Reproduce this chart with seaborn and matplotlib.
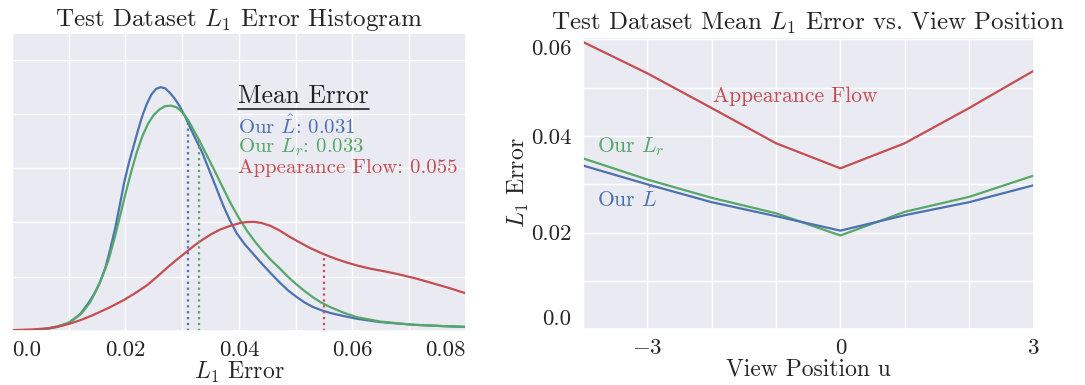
import numpy as np
import matplotlib
matplotlib.use("Agg")
import matplotlib.pyplot as plt
from matplotlib.lines import Line2D
import seaborn as sns

# ---------------- data ----------------
# Left panel: density curves
blue_x = [0.000, 0.003, 0.006, 0.008, 0.010, 0.012, 0.0134, 0.0145, 0.0155, 0.0165,
          0.0173, 0.0182, 0.0190, 0.0198, 0.0206, 0.0214, 0.0222, 0.0230, 0.0238, 0.0246,
          0.0254, 0.0262, 0.0270, 0.0278, 0.0286, 0.0295, 0.0305, 0.0320, 0.0335, 0.0349,
          0.0360, 0.0372, 0.0384, 0.0396, 0.0410, 0.0425, 0.0442, 0.0457, 0.0472, 0.0487,
          0.0502, 0.0516, 0.0530, 0.0545, 0.0560, 0.0585, 0.0608, 0.0648, 0.0707, 0.0760,
          0.0800]
blue_y = [0.0, 0.05, 0.3, 0.7, 1.4, 3.0, 5.0, 6.8, 8.9, 11.8,
          15.0, 19.0, 23.2, 27.5, 31.0, 34.0, 37.0, 39.8, 42.0, 43.7,
          44.7, 45.0, 44.8, 44.0, 43.0, 41.6, 39.6, 36.2, 33.0, 29.3,
          26.4, 23.2, 20.4, 18.0, 16.0, 14.2, 12.2, 10.5, 8.9, 7.4,
          6.2, 5.2, 4.4, 3.8, 3.3, 2.7, 2.2, 1.6, 1.1, 0.85,
          0.7]

green_x = [0.000, 0.003, 0.006, 0.008, 0.010, 0.0115, 0.0125, 0.0138, 0.0150, 0.0160,
           0.0170, 0.0180, 0.0190, 0.0200, 0.0210, 0.0220, 0.0230, 0.0240, 0.0250, 0.0260,
           0.0270, 0.0280, 0.0290, 0.0300, 0.0310, 0.0320, 0.0330, 0.0340, 0.0355, 0.0370,
           0.0385, 0.0400, 0.0414, 0.0428, 0.0442, 0.0457, 0.0472, 0.0487, 0.0502, 0.0516,
           0.0530, 0.0545, 0.0560, 0.0585, 0.0608, 0.0648, 0.0707, 0.0760, 0.0800]
green_y = [0.0, 0.05, 0.35, 0.8, 1.5, 2.6, 3.5, 5.3, 7.8, 10.2,
           13.0, 16.8, 21.0, 25.3, 29.3, 33.0, 36.0, 38.3, 39.9, 40.9,
           41.5, 41.6, 41.3, 40.4, 39.0, 37.1, 35.2, 33.1, 30.0, 26.8,
           23.6, 20.8, 18.5, 16.5, 14.7, 13.0, 11.5, 9.9, 8.5, 7.3,
           6.2, 5.2, 4.4, 3.3, 2.5, 1.7, 1.1, 0.85, 0.7]

red_x = [0.000, 0.004, 0.0067, 0.0085, 0.0102, 0.0122, 0.0143, 0.0170, 0.0196, 0.0218,
         0.0238, 0.0256, 0.0273, 0.0290, 0.0308, 0.0322, 0.0337, 0.0352, 0.0367, 0.0385,
         0.0402, 0.0415, 0.0428, 0.0440, 0.0455, 0.0472, 0.0487, 0.0502, 0.0525, 0.0548,
         0.0570, 0.0590, 0.0610, 0.0630, 0.0655, 0.0678, 0.0710, 0.0737, 0.0770, 0.0800]
red_y = [0.1, 0.25, 0.5, 0.85, 1.3, 2.0, 2.9, 4.2, 5.6, 7.0,
         8.4, 10.0, 11.6, 13.1, 14.6, 15.8, 16.9, 17.9, 18.7, 19.4,
         19.9, 20.1, 20.1, 19.9, 19.4, 18.5, 17.5, 16.6, 15.3, 14.2,
         13.3, 12.6, 12.0, 11.5, 11.0, 10.5, 9.7, 8.9, 7.9, 6.9]

mean_errors = [0.031, 0.033, 0.055]
left_xticks = [0.0, 0.01, 0.02, 0.03, 0.04, 0.05, 0.06, 0.07, 0.08]
left_xticklabels = ["0.0", "", "0.02", "", "0.04", "", "0.06", "", "0.08"]
left_yticks = [0, 10, 20, 30, 40, 50]

# Right panel: mean L1 error vs view position
view_u = [-4, -3, -2, -1, 0, 1, 2, 3]
appearance_flow = [0.0595, 0.0530, 0.0458, 0.0385, 0.0333, 0.0385, 0.0458, 0.0535]
our_lr = [0.0354, 0.0310, 0.0272, 0.0240, 0.0194, 0.0243, 0.0274, 0.0318]
our_lhat = [0.0339, 0.0300, 0.0263, 0.0234, 0.0204, 0.0236, 0.0263, 0.0298]
right_xticks = [-4, -3, -2, -1, 0, 1, 2, 3]
right_xticklabels = ["", r"$-3$", "", "", "0", "", "", "3"]
right_yticks = [0.0, 0.01, 0.02, 0.03, 0.04, 0.05, 0.06]
right_yticklabels = ["0.0", "", "0.02", "", "0.04", "", "0.06"]

# ---------------- style ----------------
sns.set_theme(style="darkgrid")
plt.rcParams["font.family"] = "serif"
plt.rcParams["font.serif"] = ["cmr10"]
plt.rcParams["mathtext.fontset"] = "cm"
plt.rcParams["axes.unicode_minus"] = False

BLUE = "#4C72B0"
GREEN = "#55A868"
RED = "#C44E52"
LW = 1.6
TKFS = 16.5
LBFS = 17
TFS = 18
AFS = 15

fig = plt.figure(figsize=(10.85, 3.85), dpi=100)
ax1 = fig.add_axes([0.011, 0.141, 0.4185, 0.773])
ax2 = fig.add_axes([0.537, 0.145, 0.4157, 0.759])

# ---------------- left panel ----------------
sns.lineplot(x=blue_x, y=blue_y, ax=ax1, color=BLUE, lw=LW)
sns.lineplot(x=green_x, y=green_y, ax=ax1, color=GREEN, lw=LW)
sns.lineplot(x=red_x, y=red_y, ax=ax1, color=RED, lw=LW)

for m, xs, ys, c in zip(mean_errors, [blue_x, green_x, red_x], [blue_y, green_y, red_y],
                        [BLUE, GREEN, RED]):
    h = float(np.interp(m, xs, ys))
    ax1.vlines(m, 0, h, colors=c, linestyles=":", lw=1.6)

ax1.set_xlim(0, 0.08)
ax1.set_ylim(0, 55)
ax1.set_xticks(left_xticks)
ax1.set_xticklabels(left_xticklabels, fontsize=TKFS)
labs = ax1.get_xticklabels()
labs[0].set_ha("left")
labs[-1].set_ha("right")
ax1.set_yticks(left_yticks)
ax1.set_yticklabels([])
ax1.tick_params(axis="x", pad=1)
ax1.set_xlabel(r"$L_1$ Error", fontsize=LBFS, labelpad=0)
ax1.set_ylabel("")
ax1.set_title(r"Test Dataset $L_1$ Error Histogram", fontsize=TFS, pad=5)

t_head = ax1.text(0.0398, 43.4, "Mean Error", color="#222222", fontsize=18.5,
                  ha="left", va="center")
ax1.text(0.0398, 37.9, r"Our $\hat{L}$: 0.031", color=BLUE, fontsize=AFS,
         ha="left", va="center")
ax1.text(0.0398, 33.95, r"Our $L_r$: 0.033", color=GREEN, fontsize=AFS,
         ha="left", va="center")
ax1.text(0.0398, 30.0, "Appearance Flow: 0.055", color=RED, fontsize=AFS,
         ha="left", va="center")

# ---------------- right panel ----------------
sns.lineplot(x=view_u, y=appearance_flow, ax=ax2, color=RED, lw=LW)
sns.lineplot(x=view_u, y=our_lr, ax=ax2, color=GREEN, lw=LW)
sns.lineplot(x=view_u, y=our_lhat, ax=ax2, color=BLUE, lw=LW)

ax2.set_xlim(-4, 3)
ax2.set_ylim(0, 0.0605)
ax2.set_xticks(right_xticks)
ax2.set_xticklabels(right_xticklabels, fontsize=TKFS)
ax2.set_yticks(right_yticks)
ax2.set_yticklabels(right_yticklabels, fontsize=TKFS)
ylabs = ax2.get_yticklabels()
ylabs[0].set_va("bottom")
ylabs[-1].set_va("top")
ax2.tick_params(axis="x", pad=1)
ax2.tick_params(axis="y", pad=2)
ax2.set_xlabel("View Position u", fontsize=LBFS, labelpad=0)
ax2.set_ylabel(r"$L_1$ Error", fontsize=LBFS, labelpad=0)
ax2.set_title(r"Test Dataset Mean $L_1$ Error vs. View Position", fontsize=TFS, pad=5)

ax2.text(-0.7, 0.0482, "Appearance Flow", color=RED, fontsize=AFS + 0.5, ha="center", va="center")
ax2.text(-3.78, 0.0378, r"Our $L_r$", color=GREEN, fontsize=AFS + 0.5, ha="left", va="center")
ax2.text(-3.78, 0.0270, r"Our $\hat{L}$", color=BLUE, fontsize=AFS + 0.5, ha="left", va="center")

# underline "Mean Error" (derived from the text's own extent)
fig.canvas.draw()
bb = t_head.get_window_extent(renderer=fig.canvas.get_renderer())
inv = fig.transFigure.inverted()
(ux0, uy0), (ux1, _) = inv.transform([[bb.x0, bb.y0], [bb.x1, bb.y0]])
fig.add_artist(Line2D([ux0, ux1], [uy0 - 0.002, uy0 - 0.002], color="#222222", lw=1.2))

fig.savefig("out.png", dpi=100)
